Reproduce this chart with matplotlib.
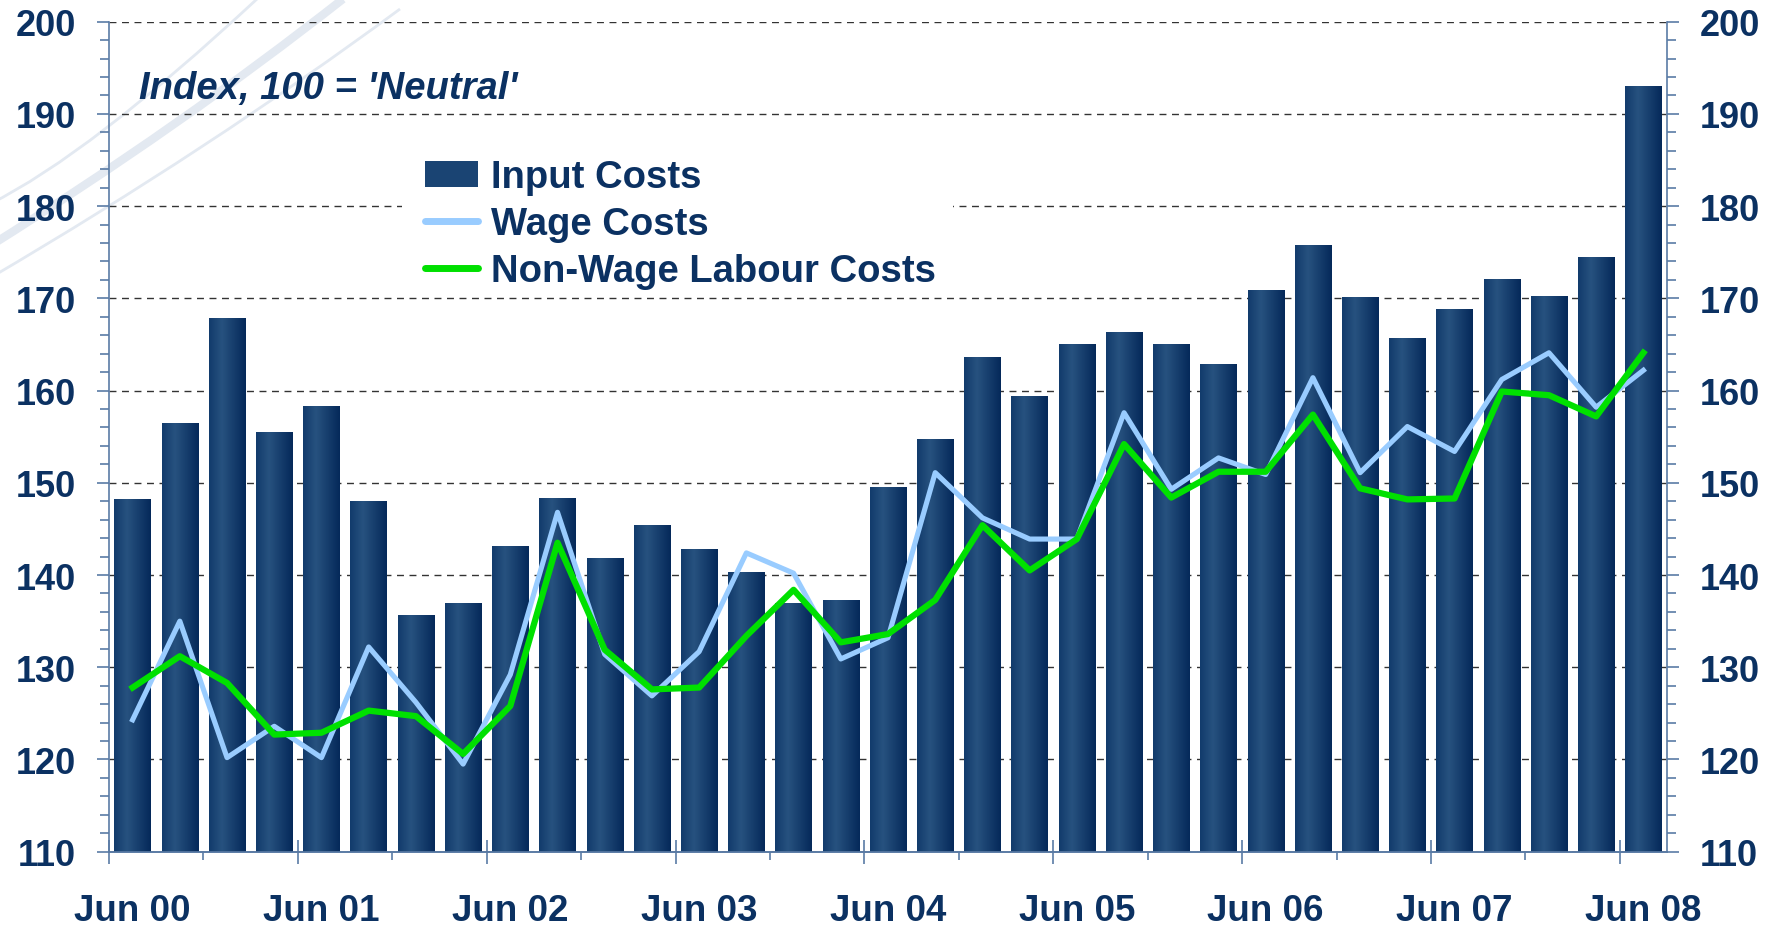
import numpy as np
import matplotlib
matplotlib.use('agg')
import matplotlib.pyplot as plt
from matplotlib.path import Path
from matplotlib.patches import PathPatch, Rectangle
from matplotlib.lines import Line2D
from matplotlib.colors import LinearSegmentedColormap

# quarterly index values, Jun 00 .. Jun 08
input_costs = [148.2, 156.5, 167.9, 155.5, 158.3, 148.0, 135.7, 137.0, 143.2, 148.4, 141.9,
               145.4, 142.8, 140.3, 137.0, 137.3, 149.5, 154.8, 163.6, 159.4, 165.1, 166.4,
               165.1, 162.9, 170.9, 175.8, 170.1, 165.7, 168.8, 172.1, 170.3, 174.5, 193.0]
wage_costs = [124.3, 135.0, 120.2, 123.6, 120.2, 132.2, 126.2, 119.5, 129.2, 146.8, 131.4,
              126.9, 131.7, 142.4, 140.2, 130.9, 133.2, 151.1, 146.2, 143.9, 143.9, 157.6,
              149.3, 152.7, 150.9, 161.4, 151.1, 156.1, 153.4, 161.2, 164.1, 158.2, 162.2]
non_wage_costs = [127.8, 131.2, 128.3, 122.7, 122.9, 125.3, 124.7, 120.6, 125.8, 143.5, 131.9,
                  127.6, 127.8, 133.4, 138.4, 132.7, 133.6, 137.3, 145.4, 140.5, 143.9, 154.2,
                  148.4, 151.2, 151.2, 157.4, 149.4, 148.2, 148.3, 159.9, 159.5, 157.2, 164.1]
tick_labels = ['Jun 00', 'Jun 01', 'Jun 02', 'Jun 03', 'Jun 04',
               'Jun 05', 'Jun 06', 'Jun 07', 'Jun 08']

plt.rcParams['font.family'] = ['Liberation Sans', 'DejaVu Sans']
plt.rcParams['font.weight'] = 'bold'

navy = '#0B3162'
axis_col = '#5A7BA5'
W, H = 1777, 928
y_lo, y_hi = 110, 200

fig = plt.figure(figsize=(W / 100, H / 100), dpi=100)
ax = fig.add_axes([109 / W, 1 - 852.7 / H, 1558 / W, 830 / H])
ax.set_facecolor('none')

# faint background swooshes
def fp(x, y):
    return (x / W, 1 - y / H)

for p0, c, p1, lw in [((-10, 205), (90, 155), (257, 0), 2.0),
                      ((-10, 247), (180, 128), (343, 0), 6.0),
                      ((-10, 279), (210, 150), (400, 10), 2.0)]:
    path = Path([fp(*p0), fp(*c), fp(*p1)], [Path.MOVETO, Path.CURVE3, Path.CURVE3])
    fig.add_artist(PathPatch(path, transform=fig.transFigure, facecolor='none',
                             edgecolor='#E3E9F1', lw=lw, zorder=0))

x = np.arange(len(input_costs))
heights = np.array(input_costs) - y_lo
bars = ax.bar(x, heights, bottom=y_lo, width=0.77, color='#173F6E', zorder=2)

cmap = LinearSegmentedColormap.from_list('bar', [(0, '#123B6C'), (0.35, '#27527F'), (1, '#05295A')])
grad = np.linspace(0, 1, 64).reshape(1, -1)
for b in bars:
    x0 = b.get_x()
    im = ax.imshow(grad, cmap=cmap, extent=(x0, x0 + b.get_width(), y_lo, y_lo + b.get_height()),
                   aspect='auto', zorder=2.1, interpolation='bicubic')
    im.set_clip_path(b)

ax.plot(x, wage_costs, color='#99CCFF', lw=3.7, zorder=3)
ax.plot(x, non_wage_costs, color='#00E000', lw=4.5, zorder=4)

ax.set_xlim(-0.5, len(x) - 0.5)
ax.set_ylim(y_lo, y_hi)

ax.set_axisbelow(True)
ax.set_yticks(np.arange(110, 201, 10))
ax.set_yticks(np.arange(110, 201, 2), minor=True)
ax.yaxis.grid(True, which='major', linestyle=(0, (5, 4)), color='#333333', lw=1.0)
ax.tick_params(axis='y', which='both', left=True, right=True, labelleft=True, labelright=True,
               colors=axis_col, labelcolor=navy, labelsize=26, width=1.2)
ax.tick_params(axis='y', which='major', length=8.5, pad=15)
ax.tick_params(axis='y', which='minor', length=6.5)

ax.set_xticks(np.arange(0, len(x), 4))
ax.set_xticklabels(tick_labels)
ax.tick_params(axis='x', length=0, pad=30, labelsize=26.5, labelcolor=navy)

for s in ['left', 'right', 'bottom']:
    ax.spines[s].set_color(axis_col)
    ax.spines[s].set_linewidth(1.2)
ax.spines['top'].set_visible(False)

sec = ax.secondary_xaxis('bottom')
sec.set_xticks(np.arange(-0.5, len(x), 4))
sec.set_xticks(np.arange(1.5, len(x), 4), minor=True)
sec.tick_params(which='major', direction='inout', length=17, width=1.2, color=axis_col,
                labelbottom=False)
sec.tick_params(which='minor', direction='out', length=5.5, width=1.2, color=axis_col)
sec.spines['bottom'].set_color(axis_col)
sec.spines['bottom'].set_linewidth(1.2)

# white patch behind legend cutting the gridline
ax.add_patch(Rectangle((0.188, 0.678), 0.354, 0.181, transform=ax.transAxes,
                       facecolor='white', edgecolor='none', zorder=1))

handles = [Rectangle((0, 0), 1, 1, facecolor='#1A4473'),
           Line2D([], [], color='#99CCFF', lw=5, solid_capstyle='round'),
           Line2D([], [], color='#00E000', lw=5, solid_capstyle='round')]
leg = ax.legend(handles, ['Input Costs', 'Wage Costs', 'Non-Wage Labour Costs'],
                loc='upper left', bbox_to_anchor=(0.2028, 0.834), frameon=False,
                fontsize=27.5, labelcolor=navy, handlelength=1.4, handletextpad=0.33,
                labelspacing=0.28, borderpad=0, borderaxespad=0)
leg.set_zorder(6)

fig.text(139 / W, 1 - 99 / H, "Index, 100 = 'Neutral'", fontsize=27.5, style='italic',
         color=navy, va='baseline')

fig.savefig('out.png', dpi=100)
